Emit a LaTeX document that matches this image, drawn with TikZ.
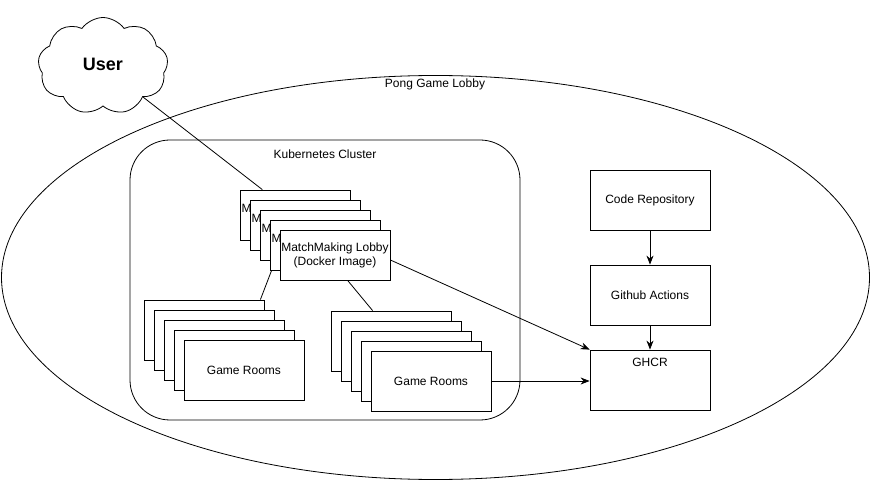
\documentclass[tikz,border=0pt]{standalone}
\usepackage{fontspec}
\setmainfont{Liberation Sans}
\usetikzlibrary{shapes.geometric,shapes.symbols,arrows.meta}
\tikzset{
  box/.style={draw, fill=white, inner sep=0pt, align=center},
  lobbybox/.style={box, minimum width=110pt, minimum height=50pt},
  lobbyback/.style={lobbybox, align=left, text width=107pt, inner xsep=1.5pt},
  roombox/.style={box, minimum width=120pt, minimum height=60pt},
  arrow/.style={-{Stealth[length=9pt,width=7pt]}}
}
\begin{document}
\begin{tikzpicture}[x=1pt,y=-1pt,line width=0.8pt,font=\fontsize{12}{14}\selectfont]
        \useasboundingbox (0,0) rectangle (871,481);

        \node[draw, ellipse, minimum width=868pt, minimum height=404pt, inner sep=0pt] (lobbyarea) at (435.5,277.5) {};
        \node (lobbylabel) at (435,84) {Pong Game Lobby};

        \node[cloud, draw, cloud puffs=9, cloud puff arc=110, aspect=1.35, minimum width=130pt, minimum height=97pt, inner sep=0pt, font=\fontsize{18}{20}\selectfont\bfseries] (user) at (103,66) {\raisebox{4pt}{User}};

        \node[draw, rounded corners=40pt, minimum width=390pt, minimum height=280pt] (cluster) at (325,280) {};
        \node (clusterlabel) at (325,154) {Kubernetes Cluster};

        \node[lobbyback] (lobby1) at (295,215) {M\\\mbox{}};
        \node[lobbyback] (lobby2) at (305,225) {M\\\mbox{}};
        \node[lobbyback] (lobby3) at (315,235) {M\\\mbox{}};
        \node[lobbyback] (lobby4) at (325,245) {M\\\mbox{}};
        \node[lobbybox] (lobby5) at (335,255) {MatchMaking Lobby\\(Docker Image)};

        \node[roombox] (roomA1) at (204,330) {};
        \node[roombox] (roomA2) at (214,340) {};
        \node[roombox] (roomA3) at (224,350) {};
        \node[roombox] (roomA4) at (234,360) {};
        \node[roombox] (roomA5) at (244,370) {Game Rooms};

        \node[roombox] (roomB1) at (391,341) {};
        \node[roombox] (roomB2) at (401,351) {};
        \node[roombox] (roomB3) at (411,361) {};
        \node[roombox] (roomB4) at (421,371) {};
        \node[roombox] (roomB5) at (431,381) {Game Rooms};

        \node[roombox] (repo) at (650,200) {Code Repository};
        \node[roombox] (actions) at (650,295) {Github Actions};
        \node[roombox] (ghcr) at (650,380) {};
        \node (ghcrlabel) at ([yshift=-13pt]ghcr.north) {GHCR};

        \draw (user) -- (lobby1);
        \draw ([xshift=2pt]lobby4.south west) -- ([xshift=-4pt]roomA1.north east);
        \draw ([xshift=68pt]lobby5.south west) -- ([xshift=42pt]roomB1.north west);

        \draw[arrow] (repo) -- (actions);
        \draw[arrow] (actions) -- (ghcr);
        \draw[arrow] ([yshift=-5pt]lobby5.east) -- (ghcr.north west);
        \draw[arrow] (roomB5.east) -- (roomB5.east -| ghcr.west);
    \end{tikzpicture}
\end{document}
